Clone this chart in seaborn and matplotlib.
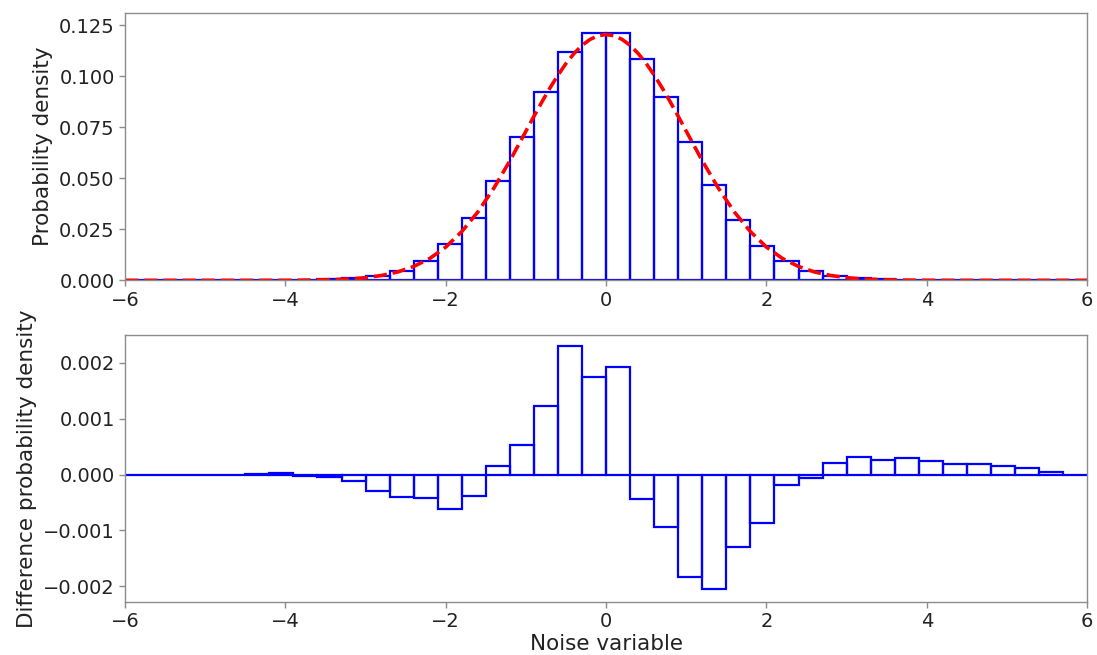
import numpy as np
import pandas as pd
import matplotlib
matplotlib.use("Agg")
import matplotlib.pyplot as plt
import seaborn as sns

# Bin edges of the noise histogram (width 0.3 from -6 to 6)
bin_edges = [round(-6.0 + 0.3 * i, 2) for i in range(41)]
bin_centers = [round(-5.85 + 0.3 * i, 3) for i in range(40)]

# Probability per bin of the noise variable
prob_density = [
    0.0, 0.0, 0.0, 0.0, 0.0, 0.00001, 0.00006, 0.0002, 0.0005, 0.0012,
    0.0023, 0.0046, 0.0093, 0.0176, 0.0306, 0.0487, 0.0705, 0.0923, 0.1117, 0.1211,
    0.1211, 0.1087, 0.0900, 0.0676, 0.0465, 0.0298, 0.0170, 0.0093, 0.0046, 0.0023,
    0.0012, 0.0006, 0.0003, 0.00028, 0.0002, 0.00018, 0.00015, 0.00011, 0.00004, 0.0,
]

# Difference between observed and reference probability per bin
diff_density = [
    0.0, 0.0, 0.0, 0.0, 0.0, 0.00001, 0.00002, -0.00002, -0.00005, -0.00011,
    -0.00029, -0.00041, -0.00042, -0.00061, -0.00038, 0.00016, 0.00052, 0.00123, 0.00230, 0.00174,
    0.00192, -0.00043, -0.00094, -0.00184, -0.00204, -0.00130, -0.00086, -0.00018, -0.00007, 0.00020,
    0.00031, 0.00026, 0.00030, 0.00025, 0.00019, 0.00018, 0.00016, 0.00011, 0.00004, 0.0,
]

# Reference Gaussian curve (right half; mirrored for the left half)
curve_x_half = [0.0, 0.1, 0.2, 0.3, 0.4, 0.5, 0.6, 0.7, 0.8, 0.9, 1.0, 1.2, 1.4,
                1.6, 1.8, 2.0, 2.2, 2.4, 2.6, 2.8, 3.0, 3.2, 3.4, 3.6, 3.8, 4.0,
                4.5, 5.0, 5.5, 6.0]
curve_y_half = [0.1205, 0.1199, 0.1181, 0.1152, 0.1112, 0.1063, 0.1006, 0.0943,
                0.0875, 0.0804, 0.0731, 0.0586, 0.0452, 0.0335, 0.0239, 0.0163,
                0.0107, 0.0068, 0.0041, 0.0024, 0.0013, 0.0007, 0.0004, 0.0002,
                0.0001, 0.00003, 0.0, 0.0, 0.0, 0.0]

curve_x = [-v for v in curve_x_half[:0:-1]] + curve_x_half
curve_y = curve_y_half[:0:-1] + curve_y_half

x_ticks = [-6, -4, -2, 0, 2, 4, 6]

sns.set_style("ticks", {
    "axes.edgecolor": "#8c8c8c",
    "xtick.color": "#8c8c8c",
    "ytick.color": "#8c8c8c",
})
plt.rcParams["font.family"] = ["DejaVu Sans"]
plt.rcParams["xtick.labelcolor"] = "#222222"
plt.rcParams["ytick.labelcolor"] = "#222222"

fig = plt.figure(figsize=(10.97, 6.55), dpi=100)
ax1 = fig.add_axes([0.114, 0.572, 0.877, 0.408])
ax2 = fig.add_axes([0.114, 0.081, 0.877, 0.407])

hist_df = pd.DataFrame({"x": bin_centers, "p": prob_density})
diff_df = pd.DataFrame({"x": bin_centers, "d": diff_density})
curve_df = pd.DataFrame({"x": curve_x, "y": curve_y})

sns.histplot(data=hist_df, x="x", weights="p", bins=bin_edges, fill=False,
             color="blue", linewidth=1.6, ax=ax1)
sns.lineplot(data=curve_df, x="x", y="y", color="red", linestyle="--",
             linewidth=2.6, ax=ax1)

sns.histplot(data=diff_df, x="x", weights="d", bins=bin_edges, fill=False,
             color="blue", linewidth=1.6, ax=ax2)

label_size = 15.5
tick_size = 14

ax1.set_xlim(-6, 6)
ax1.set_ylim(0, 0.131)
ax1.set_xticks(x_ticks)
ax1.set_yticks([0.0, 0.025, 0.05, 0.075, 0.1, 0.125])
ax1.set_yticklabels(["0.000", "0.025", "0.050", "0.075", "0.100", "0.125"])
ax1.set_xlabel("")
ax1.set_ylabel("Probability density", fontsize=label_size, color="#222222")

ax2.set_xlim(-6, 6)
ax2.set_ylim(-0.00228, 0.00249)
ax2.set_xticks(x_ticks)
ax2.set_yticks([-0.002, -0.001, 0.0, 0.001, 0.002])
ax2.set_yticklabels(["\u22120.002", "\u22120.001", "0.000", "0.001", "0.002"])
ax2.set_xlabel("Noise variable", fontsize=label_size, color="#222222", labelpad=2)
ax2.set_ylabel("Difference probability density", fontsize=label_size,
               color="#222222")

for ax in (ax1, ax2):
    ax.tick_params(labelsize=tick_size, length=4, width=1)
    for s in ax.spines.values():
        s.set_visible(True)
        s.set_linewidth(1.0)

fig.savefig("out.png", dpi=100, facecolor="white")
